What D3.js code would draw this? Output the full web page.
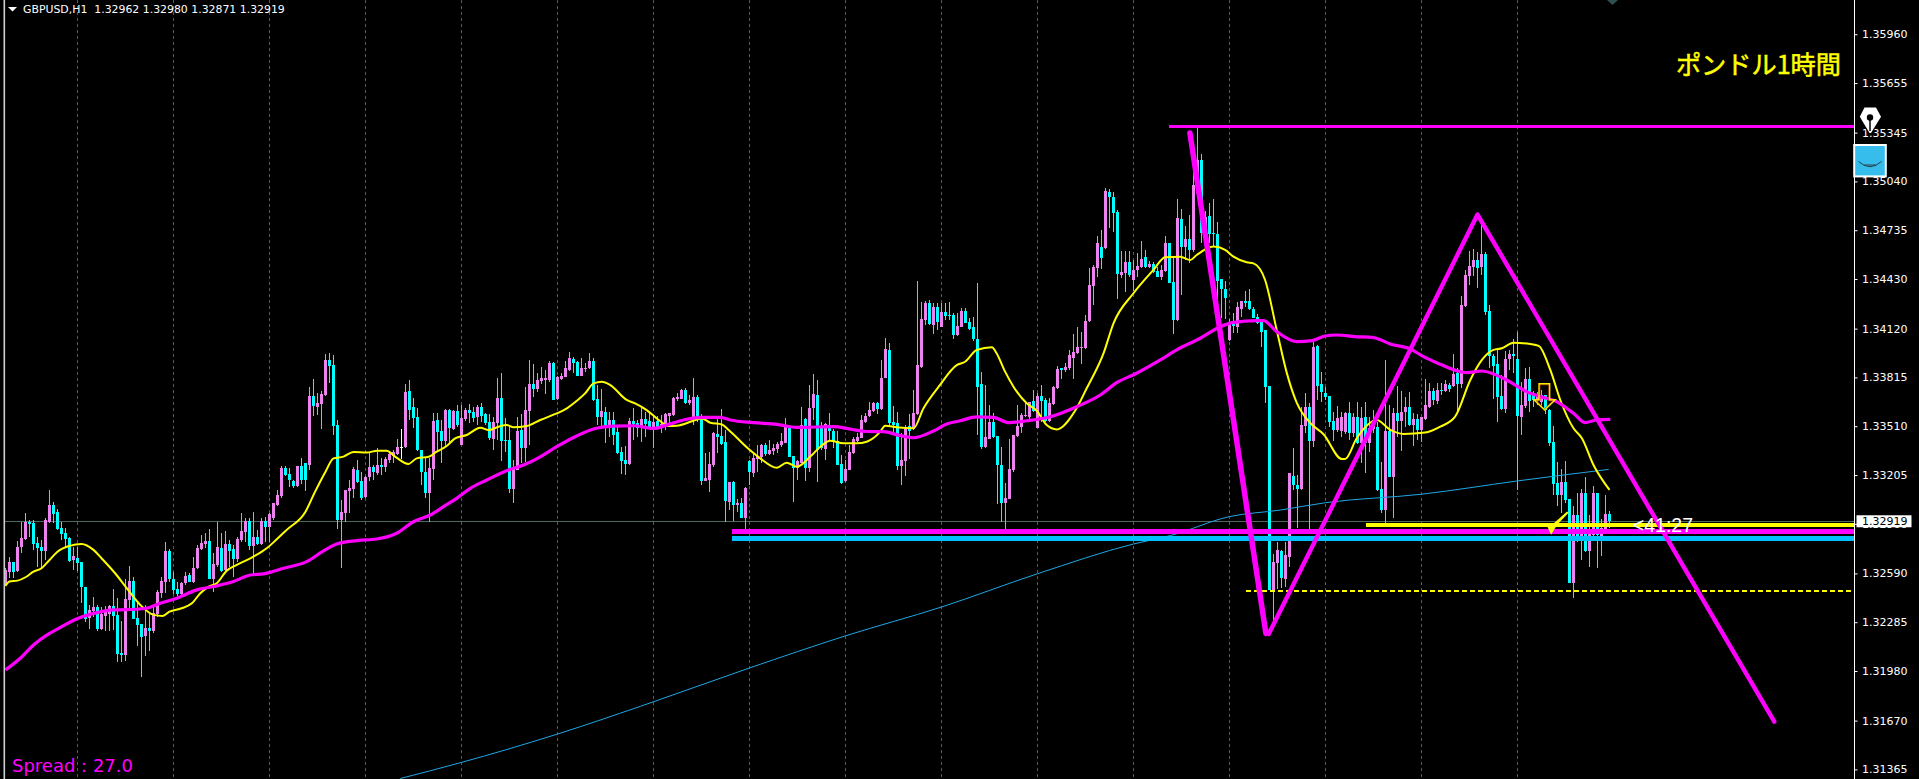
<!DOCTYPE html>
<html><head><meta charset="utf-8">
<script src="https://cdn.jsdelivr.net/npm/d3@7"></script>
<style>html,body{margin:0;padding:0;background:#000;overflow:hidden}svg{display:block}</style>
</head><body>
<svg id="c" width="1919" height="779"></svg>
<script>
// Candles: [open, high, low, close] in points above 1.30000
const barsA=[[2528,2622,2518,2612],[2597,2695,2560,2664],[2660,2664,2560,2597],[2607,2793,2601,2753],[2753,2914,2716,2810],[2805,2966,2799,2910],[2914,2924,2820,2899],[2905,2924,2737,2774],[2778,2820,2633,2751],[2753,2799,2622,2732],[2732,2935,2674,2922],[2914,3112,2907,3018],[3018,3035,2907,2962],[2974,2991,2862,2868],[2874,2914,2799,2837],[2841,2872,2747,2805],[2810,2820,2664,2668],[2674,2757,2612,2699],[2687,2757,2608,2658],[2664,2664,2403,2508],[2505,2505,2289,2308],[2312,2393,2245,2362],[2353,2445,2320,2383],[2383,2393,2233,2243],[2243,2383,2237,2335],[2326,2387,2233,2358],[2337,2393,2233,2387],[2387,2491,2237,2326],[2330,2435,2039,2089],[2095,2293,2039,2081],[2081,2553,2045,2430],[2424,2637,2362,2541],[2543,2566,2303,2308],[2312,2403,2139,2268],[2274,2274,1945,2195],[2199,2393,2074,2247],[2247,2341,2108,2233],[2233,2383,2216,2341],[2337,2487,2320,2476],[2466,2570,2435,2543],[2539,2789,2466,2730],[2730,2741,2539,2556],[2556,2601,2460,2487],[2491,2539,2449,2462],[2462,2539,2455,2528],[2532,2601,2518,2576],[2580,2591,2535,2539],[2535,2691,2528,2622],[2622,2768,2616,2747],[2743,2830,2737,2778]];
const barsB=[[2774,2841,2747,2793],[2793,2866,2553,2556],[2558,2716,2476,2649],[2643,2914,2633,2753],[2749,2841,2601,2607],[2612,2858,2601,2774],[2774,2799,2633,2730],[2743,2768,2566,2680],[2680,2820,2664,2803],[2799,2966,2789,2855],[2849,2935,2789,2918],[2918,2935,2737,2762],[2762,2972,2580,2820],[2818,2862,2768,2774],[2774,2935,2768,2918],[2918,2945,2785,2878],[2878,2970,2785,2960],[2935,3032,2924,3028],[3018,3112,3014,3080],[3074,3262,3059,3251],[3247,3262,3199,3205],[3212,3247,3132,3174],[3170,3174,3122,3137],[3137,3262,3128,3262],[3262,3309,3149,3174],[3278,3282,3107,3174],[3268,3757,3237,3699],[3699,3803,3574,3637],[3630,3716,3580,3653],[3649,3732,3495,3712],[3705,3961,3699,3924],[3924,3966,3778,3887],[3893,3955,3455,3512],[3518,3549,2866,2924],[2924,3049,2626,2976],[2970,3112,2914,3112],[3107,3174,2966,3122],[3118,3253,3059,3241],[3237,3299,3153,3164],[3168,3226,3049,3064],[3070,3199,3059,3195],[3191,3341,3170,3253],[3257,3268,3174,3226],[3216,3372,3205,3268],[3268,3309,3205,3257],[3257,3320,3226,3305],[3299,3351,3278,3337],[3326,3362,3278,3351],[3337,3430,3330,3378],[3378,3491,3303,3378]];
const barsC=[[3378,3771,3372,3726],[3730,3799,3549,3611],[3628,3684,3496,3561],[3565,3621,3357,3361],[3361,3361,3142,3224],[3224,3309,3059,3094],[3094,3309,2913,3247],[3242,3594,3174,3542],[3549,3590,3351,3476],[3480,3549,3282,3417],[3417,3615,3382,3611],[3611,3615,3413,3499],[3492,3611,3486,3605],[3605,3642,3507,3517],[3392,3642,3392,3559],[3553,3621,3544,3611],[3611,3649,3528,3594],[3599,3628,3538,3559],[3565,3642,3517,3628],[3628,3653,3538,3576],[3586,3590,3517,3528],[3534,3586,3424,3434],[3430,3565,3361,3534],[3528,3809,3424,3686],[3686,3840,3294,3417],[3424,3559,3351,3421],[3424,3517,3090,3117],[3117,3299,3032,3242],[3238,3565,3236,3480],[3486,3584,3282,3376],[3376,3757,3288,3611],[3605,3923,3392,3774],[3771,3896,3694,3742],[3740,3840,3726,3799],[3792,3882,3774,3813],[3799,3861,3711,3809],[3799,3919,3788,3905],[3905,3909,3674,3676],[3680,3824,3674,3817],[3803,3840,3799,3824],[3819,3917,3815,3876],[3861,3971,3857,3934],[3930,3940,3840,3903],[3911,3919,3824,3826],[3826,3934,3824,3876],[3871,3907,3851,3876],[3871,3965,3865,3917],[3917,3934,3669,3674],[3680,3767,3517,3565],[3569,3740,3507,3605]];
const barsD=[[3596,3632,3403,3503],[3496,3601,3444,3549],[3549,3601,3392,3455],[3474,3517,3336,3340],[3349,3382,3209,3292],[3299,3386,3205,3274],[3274,3559,3267,3542],[3542,3621,3424,3521],[3528,3549,3440,3501],[3501,3621,3413,3555],[3555,3601,3444,3526],[3542,3590,3507,3507],[3507,3580,3372,3538],[3542,3574,3496,3507],[3501,3580,3469,3521],[3507,3594,3486,3584],[3574,3590,3528,3590],[3580,3694,3574,3686],[3682,3719,3667,3694],[3682,3740,3678,3736],[3736,3746,3649,3653],[3653,3705,3642,3674],[3559,3809,3517,3692],[3692,3705,3538,3559],[3574,3586,3142,3169],[3167,3340,3167,3184],[3174,3347,3101,3274],[3267,3476,3257,3469],[3461,3559,3340,3444],[3449,3615,3392,3397],[3411,3486,2913,3042],[3038,3163,2986,3163],[3163,3169,2920,3017],[3017,3053,2976,3030],[3030,3059,2934,2938],[2938,3132,2851,3126],[3294,3299,3142,3226],[3215,3351,3190,3313],[3305,3392,3226,3324],[3319,3396,3278,3392],[3392,3403,3324,3334],[3334,3424,3330,3361],[3357,3396,3330,3372],[3365,3413,3344,3396],[3392,3465,3382,3417],[3407,3559,3403,3507],[3507,3517,3315,3319],[3324,3324,3038,3251],[3251,3299,3174,3292],[3282,3628,3278,3520]];
const barsE=[[3555,3559,3170,3247],[3247,3767,3226,3626],[3622,3836,3549,3711],[3705,3799,3163,3361],[3511,3538,3361,3372],[3367,3528,3299,3524],[3517,3590,3424,3478],[3478,3490,3372,3409],[3417,3482,3265,3267],[3274,3330,3149,3153],[3170,3299,3163,3242],[3236,3392,3236,3349],[3340,3444,3334,3430],[3417,3465,3413,3444],[3438,3580,3434,3549],[3536,3590,3532,3574],[3574,3663,3569,3611],[3607,3663,3601,3657],[3653,3663,3586,3617],[3617,3924,3611,3813],[3813,4059,3809,3992],[3986,4028,3507,3528],[3534,3636,3465,3517],[3528,3601,3236,3263],[3263,3465,3142,3299],[3292,3517,3199,3503],[3511,3586,3303,3480],[3492,3736,3486,3590],[3586,4417,3580,3892],[3882,4288,3871,4178],[4174,4292,4142,4282],[4280,4299,4142,4146],[4142,4278,4086,4257],[4253,4278,4111,4163],[4132,4278,4128,4226],[4224,4278,4174,4201],[4205,4284,4174,4201],[4205,4215,4055,4080],[4080,4215,4076,4136],[4132,4251,4128,4230],[4230,4251,4153,4157],[4161,4184,4111,4117],[4128,4190,4044,4055],[4055,4403,3455,3757],[3772,3847,3367,3382],[3382,3767,3372,3444],[3430,3642,3428,3536],[3536,3590,3434,3440],[3449,3449,3024,3267],[3267,3382,2913,3028]];
const barsF=[[3028,3153,2865,3061],[3055,3430,3053,3242],[3236,3455,3226,3455],[3449,3642,3444,3511],[3507,3590,3465,3580],[3576,3663,3569,3580],[3569,3663,3549,3661],[3667,3736,3601,3605],[3501,3715,3497,3699],[3699,3767,3538,3667],[3674,3684,3538,3544],[3542,3684,3538,3653],[3649,3761,3642,3757],[3751,3886,3740,3867],[3871,3871,3805,3861],[3861,3903,3851,3882],[3876,3986,3861,3955],[3934,4086,3805,3971],[3965,4132,3961,4003],[3999,4101,3899,4007],[3997,4205,3992,4167],[4167,4500,4160,4392],[4389,4515,4267,4505],[4499,4700,4440,4655],[4628,4737,4491,4564],[4622,4997,4618,4982],[4976,4993,4747,4945],[4945,4976,4726,4845],[4849,4862,4305,4462],[4455,4605,4434,4474],[4470,4607,4351,4537],[4537,4607,4445,4455],[4424,4549,4357,4487],[4487,4591,4445,4512],[4507,4668,4497,4557],[4566,4612,4497,4507],[4503,4545,4497,4524],[4522,4539,4466,4474],[4480,4507,4441,4445],[4445,4518,4424,4487],[4480,4699,4476,4653],[4653,4657,4403,4407],[4414,4574,4087,4174],[4174,4930,4170,4812],[4805,4866,4330,4632],[4632,4762,4549,4680],[4680,4830,4528,4612],[4612,5118,4600,5018],[4970,5374,4950,5174],[5174,5211,4657,4716]];
const barsG=[[4716,4855,4674,4820],[4824,4903,4653,4711],[4716,4928,4632,4713],[4712,4789,4195,4420],[4428,4428,4185,4366],[4366,4420,4180,4314],[4049,4178,4045,4164],[4160,4216,4091,4137],[4132,4289,4091,4253],[4245,4293,4195,4293],[4293,4355,4257,4282],[4293,4366,4237,4241],[4241,4257,4185,4189],[4193,4212,4149,4157],[4168,4180,4008,4099],[4112,4112,3653,3758],[3762,3762,2487,2487],[2487,2712,2299,2660],[2658,2789,2493,2737],[2731,2737,2497,2560],[2558,2789,2508,2706],[2695,3220,2633,3216],[3199,3372,3112,3143],[3143,3205,2872,3116],[3116,3632,3112,3518],[3514,3716,3466,3632],[3630,3653,2862,3420],[3420,4039,3383,4007],[4012,4018,3674,3764],[3774,3847,3664,3722],[3716,3757,3674,3691],[3699,3699,3508,3539],[3543,3601,3418,3487],[3487,3639,3476,3560],[3483,3601,3445,3566],[3476,3601,3462,3595],[3591,3664,3424,3470],[3470,3591,3445,3568],[3570,3664,3399,3403],[3403,3632,3278,3564],[3566,3660,3216,3408],[3408,3570,3351,3497],[3491,3612,3466,3549],[3503,3539,3108,3112],[3116,3289,2966,2987],[2987,3924,2878,3482],[3482,3643,3191,3195],[3195,3622,2939,3595],[3595,3762,3445,3543],[3543,3732,3358,3601]];
const barsH=[[3597,3695,3508,3632],[3630,3726,3512,3518],[3518,3595,3387,3555],[3555,3587,3424,3487],[3487,3570,3414,3570],[3555,3803,3549,3643],[3632,3782,3622,3730],[3730,3747,3643,3674],[3670,3778,3649,3737],[3737,3782,3705,3734],[3730,3799,3726,3774],[3768,3778,3726,3743],[3764,3961,3757,3837],[3841,3872,3591,3774],[3774,4324,3747,4268],[4262,4487,4257,4455],[4449,4607,4393,4511],[4503,4618,4449,4549],[4549,4601,4372,4497],[4503,4768,4455,4587],[4587,4597,4205,4226],[4230,4268,3872,3949],[3949,3962,3678,3887],[3899,3987,3539,3695],[3699,3830,3612,3616],[3618,3980,3595,3930],[3930,3987,3862,3962],[3962,4053,3841,3949],[3930,4097,3112,3576],[3570,3789,3455,3643],[3639,3872,3622,3805],[3805,3882,3601,3668],[3716,3732,3632,3674],[3674,3726,3643,3701],[3664,3737,3632,3705],[3705,3705,3587,3612],[3612,3616,3387,3408],[3414,3512,3080,3149],[3153,3289,3012,3080],[3080,3241,2966,3160],[3164,3293,3028,3049],[3053,3053,2529,2529],[2529,3012,2439,2955],[2955,3091,2789,2795],[2820,3116,2674,3091],[3091,3191,2726,2731],[2731,2955,2628,2837],[2831,3137,2820,3091],[3091,3091,2626,2831],[2824,2928,2699,2872],[2866,3081,2862,2962],[2962,2980,2871,2919]];
// Moving averages: [bar index, points above 1.30000]
const yellowMA=[[0,2512],[1,2539],[3,2545],[5,2566],[7,2601],[9,2622],[11,2674],[13,2726],[16,2762],[19,2774],[22,2737],[24,2685],[27.4,2591],[30,2508],[33.7,2393],[37,2331],[39.3,2324],[41,2351],[44,2372],[46.6,2403],[48.7,2466],[50.8,2508],[52.8,2528],[55.3,2607],[57.8,2643],[62,2695],[65.3,2747],[67.8,2803],[70.3,2862],[75,2976],[77.4,3101],[80,3226],[82,3309],[84.5,3320],[87,3349],[90.3,3345],[93,3357],[95.3,3357],[97.4,3320],[100.7,3274],[102.8,3309],[105.8,3319],[107.8,3351],[110.3,3386],[112.4,3434],[115.3,3455],[118.7,3501],[120.8,3486],[123.3,3507],[125.3,3517],[127,3503],[130.3,3511],[133.7,3549],[137.8,3590],[139.9,3615],[142.8,3669],[144.9,3715],[147,3778],[149.1,3788],[151.2,3767],[155.3,3674],[157.4,3653],[160.3,3611],[163.3,3549],[165.8,3511],[167.8,3513],[172,3544],[174.1,3559],[176.2,3532],[179.1,3521],[180.8,3486],[185.8,3367],[188.7,3309],[192.8,3250],[195.3,3282],[197.8,3257],[201.2,3320],[203.7,3382],[206.2,3419],[209.5,3403],[212.8,3403],[215.3,3413],[218.7,3476],[219.9,3513],[222.8,3503],[227,3497],[229.5,3622],[233.3,3757],[237.8,3892],[239.9,3913],[242.8,3986],[246.6,4003],[247.8,3965],[249.9,3851],[252,3757],[255.3,3653],[257.8,3607],[260.3,3517],[262.8,3490],[267.4,3607],[270.3,3747],[274.5,3965],[277,4153],[282,4341],[287,4487],[289.9,4566],[293.7,4570],[296.2,4549],[297.8,4580],[302,4633],[304.9,4612],[307,4570],[310.3,4535],[312,4528],[314.9,4424],[317.8,4112],[320.3,3845],[322.8,3658],[326.2,3530],[329.5,3460],[334.1,3305],[334.9,3305],[337.8,3435],[342.8,3549],[346.2,3487],[349.5,3462],[354.9,3470],[358.7,3507],[362.4,3570],[366.2,3799],[369.1,3924],[372,3987],[374.1,3997],[377,4032],[381.2,4024],[383.3,4012],[386.2,3862],[388.7,3674],[392,3497],[394.1,3435],[397,3268],[401,3112]];
const magentaMA=[[0,1987],[3.7,2060],[7,2143],[10.8,2212],[13.3,2247],[18.2,2310],[22.8,2345],[27,2362],[32.8,2366],[35.3,2372],[38.7,2403],[42.8,2435],[47.8,2487],[52,2508],[57,2539],[61.2,2580],[64.5,2587],[69.5,2622],[75.3,2664],[79.9,2737],[82.8,2774],[87.8,2795],[92.8,2805],[97.8,2841],[102,2913],[106.2,2955],[109.5,3007],[112.8,3059],[116.2,3122],[120.3,3174],[125.3,3232],[129.5,3267],[133.7,3319],[137.8,3382],[142.8,3449],[147.4,3496],[152,3511],[157,3513],[162,3496],[165.3,3517],[169.5,3549],[173.7,3565],[178.7,3565],[181.2,3549],[187,3532],[192.8,3521],[197.8,3503],[207,3507],[211.2,3492],[215.3,3477],[219.5,3476],[223.7,3451],[227,3438],[232,3480],[235.3,3524],[238.7,3544],[242.8,3569],[247,3565],[250.8,3532],[255.3,3544],[261.2,3569],[267.8,3632],[273.7,3705],[277.8,3782],[282.8,3841],[288.7,3924],[292.8,3987],[298.7,4060],[303.7,4132],[307,4159],[312.8,4170],[314.5,4170],[317.8,4101],[322.8,4039],[326.6,4045],[329.9,4074],[332.8,4080],[337.4,4070],[342,4064],[346.2,4024],[351.2,3993],[354.5,3945],[358.7,3897],[362.8,3857],[365.3,3845],[369.1,3855],[372,3837],[375.3,3799],[380.3,3726],[383.7,3695],[387.8,3664],[392,3591],[394.9,3533],[397.8,3549],[401.2,3553]];
const blueMA=[[98.7,1308],[113.9,1408],[125,1487],[138,1586],[158.7,1759],[186,1999],[209.9,2199],[234,2380],[258,2588],[282,2774],[291.3,2827],[306,2945],[318.7,2986],[330,3032],[354,3085],[378,3168],[400.8,3240]];
// Drawn objects
const zigzag=[[296.1,5343],[315.1,2215]];
const triangleLine=[[315.8,2211],[368,4833],[442.2,1663]];
const topLevel={startBar:290.8,points:5382};
const magentaLevel={startBar:181.6,points:2853};
const blueLevel={startBar:181.6,points:2810};
const yellowLevel={startBar:340,points:2893};
const dashedLevel={startBar:310,points:2480};
const bidPoints=2919;
const dayStarts=[18,42,66,90,114,138,162,186,210,234,258,282,306,330,354,378];
const tickLabels=["1.35960","1.35655","1.35345","1.35040","1.34735","1.34430","1.34120","1.33815","1.33510","1.33205","1.32900","1.32590","1.32285","1.31980","1.31670","1.31365"];
const headerText="GBPUSD,H1  1.32962 1.32980 1.32871 1.32919";
const titleText="ポンドル1時間";
const spreadText="Spread : 27.0";
const countdownText="<41:27";
const bidLabel="1.32919";

const bars=[...barsA,...barsB,...barsC,...barsD,...barsE,...barsF,...barsG,...barsH];
const price=v=>1.3+v/1e5;
const W=1919,H=779,axisX=1854.5;
const x=d3.scaleLinear().domain([0,401]).range([5.5,5.5+4*401]);
const y=d3.scaleLinear().domain([1.3596,1.31365]).range([34.24,769.4]);
const svg=d3.select("#c");
svg.append("rect").attr("width",W).attr("height",H).attr("fill","#000");
const plot=svg.append("g");

// day separators
plot.selectAll("line.grid").data(dayStarts).join("line")
  .attr("x1",d=>Math.floor(x(d))+.5).attr("x2",d=>Math.floor(x(d))+.5).attr("y1",0).attr("y2",H)
  .attr("stroke","#5a5a5a").attr("stroke-width",1).attr("stroke-dasharray","3,3").attr("shape-rendering","crispEdges");
// bid line
plot.append("line").attr("x1",5).attr("x2",axisX).attr("y1",Math.round(y(price(bidPoints)))+.5).attr("y2",Math.round(y(price(bidPoints)))+.5)
  .attr("stroke","#4a6a60").attr("stroke-width",1);
// candles
const col=d=>d[3]>d[0]?"#ee82ee":d[3]<d[0]?"#00ffff":"#ffffff";
const cg=plot.append("g").attr("shape-rendering","crispEdges");
cg.selectAll("rect.w").data(bars).join("rect")
  .attr("x",(d,i)=>Math.floor(x(i))).attr("width",1)
  .attr("y",d=>y(price(d[1]))).attr("height",d=>Math.max(1,y(price(d[2]))-y(price(d[1]))))
  .attr("fill",col);
cg.selectAll("rect.b").data(bars).join("rect")
  .attr("x",(d,i)=>Math.floor(x(i))-1).attr("width",3)
  .attr("y",d=>y(price(Math.max(d[0],d[3])))).attr("height",d=>Math.max(1,Math.abs(y(price(d[0]))-y(price(d[3])))))
  .attr("fill",col);
// moving averages
const ln=d3.line().x(d=>x(d[0])).y(d=>y(price(d[1])));
const smooth=d3.line().x(d=>x(d[0])).y(d=>y(price(d[1]))).curve(d3.curveMonotoneX);
const path=(data,color,w,gen)=>plot.append("path").attr("d",(gen||ln)(data)).attr("fill","none").attr("stroke",color).attr("stroke-width",w).attr("stroke-linejoin","round");
path(blueMA,"#1fa8e6",1,smooth);
path(yellowMA,"#ffff00",2,smooth);
path(magentaMA,"#ff00ff",3.2,smooth);
// levels
const level=(l,color,w,dash)=>plot.append("line").attr("x1",x(l.startBar)).attr("x2",axisX).attr("y1",y(price(l.points))).attr("y2",y(price(l.points)))
  .attr("stroke",color).attr("stroke-width",w).attr("stroke-dasharray",dash||null).attr("shape-rendering","crispEdges");
level(blueLevel,"#00bfff",5);
level(yellowLevel,"#ffff00",4);
level(magentaLevel,"#ff00ff",4.5);
level(topLevel,"#ff00ff",3);
level(dashedLevel,"#ffff00",1.4,"5,3");
// trend lines
path(zigzag,"#ff00ff",5.5).attr("stroke-linecap","round");
path(triangleLine,"#ff00ff",4.4).attr("stroke-linecap","round");
// arrow glyph
const arrow={bar:384.9,points:3612};
const ax=x(arrow.bar)-.5, ay=y(price(arrow.points));
plot.append("path").attr("transform",`translate(${ax},${ay})`)
  .attr("d","M-5.5,-26H5V-10H10.5L0,0L-10.5,-10H-5.5Z")
  .attr("fill","none").attr("stroke","#ffe600").attr("stroke-width",1.6);
plot.append("path").attr("transform",`translate(${ax},${ay})`)
  .attr("d","M-4.5,-25H4V-9H8L0,-1.2L-8,-9H-4.5Z")
  .attr("fill","none").attr("stroke","#c04000").attr("stroke-width",.6);
// check glyph
const mark={bar:386.4,points:2834};
plot.append("path").attr("transform",`translate(${x(mark.bar)},${y(price(mark.points))})`)
  .attr("d","M-4.6,-9.5H1L16,-22.8L17.5,-21.5L6,-9.5L0,0.5Z").attr("fill","#ffff00");
// texts
svg.append("text").attr("x",1693).attr("y",531.5).attr("text-anchor","end").attr("font-family","Liberation Sans").attr("font-size",19.5).attr("fill","#fff").text(countdownText);
svg.append("text").attr("x",1841).attr("y",73.5).attr("text-anchor","end").attr("font-family","Noto Sans CJK JP").attr("font-size",25.2).attr("fill","#ffff00").attr("stroke","#ffff00").attr("stroke-width",.5).text(titleText);
svg.append("path").attr("d","M8,7H17L12.5,11.5Z").attr("fill","#fff");
svg.append("text").attr("x",23).attr("y",13.4).attr("font-family","DejaVu Sans").attr("font-size",10.9).attr("fill","#fff").attr("xml:space","preserve").style("white-space","pre").text(headerText);
svg.append("text").attr("x",12).attr("y",771.5).attr("font-family","DejaVu Sans").attr("font-size",18).attr("fill","#ff00ff").text(spreadText);
// left edge
svg.append("rect").attr("x",3.5).attr("y",0).attr("width",1.6).attr("height",H).attr("fill","#cfcfcf");
// right axis
const ticks=tickLabels.map(Number);
const axis=d3.axisRight(y).tickValues(ticks).tickSize(3).tickPadding(4).tickFormat((d,i)=>tickLabels[i]);
const ag=svg.append("g").attr("transform",`translate(${axisX},0)`).call(axis);
ag.select(".domain").remove();
ag.selectAll("line").attr("stroke","#fff");
ag.selectAll("text").attr("fill","#fff").attr("font-family","DejaVu Sans").attr("font-size",11).attr("x",7.5);
svg.append("line").attr("x1",axisX).attr("x2",axisX).attr("y1",0).attr("y2",H).attr("stroke","#fff").attr("stroke-width",1);
// bid label
const by=y(price(bidPoints));
svg.append("rect").attr("x",1856.5).attr("y",by-5.5).attr("width",55).attr("height",12).attr("fill","#fff");
svg.append("text").attr("x",1862).attr("y",by+4.5).attr("font-family","DejaVu Sans").attr("font-size",11).attr("fill","#000").text(bidLabel);
// icons
svg.append("path").attr("d","M1864.5,107.5H1876L1881,116.7L1871,133H1869.5L1859.8,116.7Z").attr("fill","#fff").attr("stroke","#000").attr("stroke-width",2.5).attr("paint-order","stroke");
svg.append("circle").attr("cx",1870).attr("cy",117.5).attr("r",3.2).attr("fill","#000");
svg.append("line").attr("x1",1870).attr("x2",1870).attr("y1",119).attr("y2",131).attr("stroke","#000").attr("stroke-width",1.5);
svg.append("rect").attr("x",1854.2).attr("y",145).attr("width",31.6).attr("height",31.4).attr("fill","#36bdeb").attr("stroke","#fff").attr("stroke-width",2);
svg.append("path").attr("d","M1858.5,161.5Q1870,172 1881.5,161.5").attr("fill","none").attr("stroke","#26404c").attr("stroke-width",1);
svg.append("path").attr("d","M1864,165H1876").attr("fill","none").attr("stroke","#26404c").attr("stroke-width",1);
svg.append("path").attr("d","M1607,0H1618L1612.5,5Z").attr("fill","#2f5050");
</script>
</body></html>
